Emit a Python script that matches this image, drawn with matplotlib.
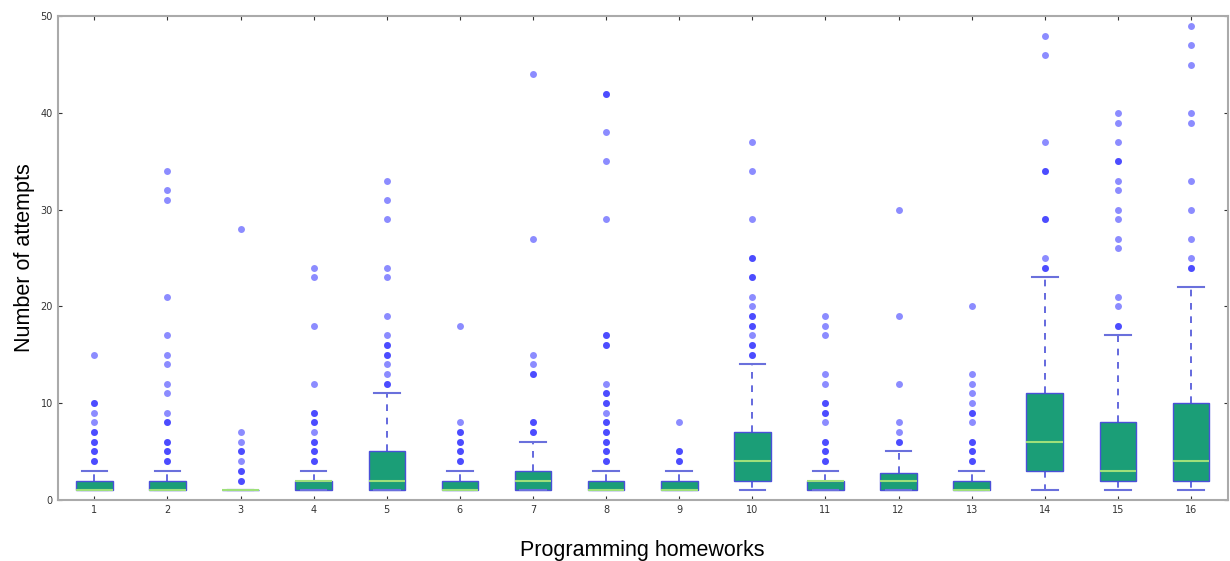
import matplotlib
matplotlib.use("Agg")
import matplotlib.pyplot as plt

homeworks = list(range(1, 17))

# box stats
q1 = [1, 1, 1, 1, 1, 1, 1, 1, 1, 2, 1, 1, 1, 3, 2, 2]
q3 = [2, 2, 1, 2, 5, 2, 3, 2, 2, 7, 2, 2.8, 2, 11, 8, 10]
med = [1, 1, 1, 2, 2, 1, 2, 1, 1, 4, 2, 2, 1, 6, 3, 4]
whislo = [1, 1, 1, 1, 1, 1, 1, 1, 1, 1, 1, 1, 1, 1, 1, 1]
whishi = [3, 3, 1, 3, 11, 3, 6, 3, 3, 14, 3, 5, 3, 23, 17, 22]

# outliers (repeated values show up darker)
fliers = [
    [4, 4, 5, 5, 6, 6, 7, 7, 8, 9, 10, 10, 15],
    [4, 4, 5, 5, 6, 6, 8, 8, 9, 11, 12, 14, 15, 17, 21, 31, 32, 34],
    [2, 2, 3, 3, 4, 5, 5, 6, 7, 28],
    [4, 4, 5, 5, 6, 6, 7, 8, 8, 9, 9, 12, 18, 23, 24],
    [12, 12, 13, 14, 15, 15, 16, 16, 17, 19, 23, 24, 29, 31, 33],
    [4, 4, 5, 5, 6, 6, 7, 7, 8, 18],
    [7, 7, 8, 8, 13, 13, 14, 15, 27, 44],
    [4, 4, 5, 5, 6, 6, 7, 7, 8, 8, 9, 10, 10, 11, 11, 12, 16, 16, 17, 17,
     29, 35, 38, 42, 42],
    [4, 4, 5, 5, 8],
    [15, 15, 16, 16, 17, 18, 18, 19, 19, 20, 21, 23, 23, 25, 25, 29, 34, 37],
    [4, 4, 5, 5, 6, 6, 8, 9, 9, 10, 10, 12, 13, 17, 18, 19],
    [6, 6, 7, 8, 12, 19, 30],
    [4, 4, 5, 5, 6, 6, 8, 9, 9, 10, 11, 12, 13, 20],
    [24, 24, 25, 29, 29, 34, 34, 37, 46, 48],
    [18, 18, 20, 21, 26, 27, 29, 30, 32, 33, 35, 35, 37, 39, 40],
    [24, 24, 25, 27, 30, 33, 39, 40, 45, 47, 49],
]

stats = []
for i in range(len(homeworks)):
    stats.append(dict(q1=q1[i], q3=q3[i], med=med[i], whislo=whislo[i],
                      whishi=whishi[i], fliers=fliers[i]))

fig = plt.figure(figsize=(12.3, 5.61), dpi=100)
ax = fig.add_axes([0.047, 0.109, 0.951, 0.862])

ax.bxp(stats, positions=homeworks, widths=0.5, capwidths=0.35,
       patch_artist=True,
       boxprops=dict(facecolor="#1b9e77", edgecolor="#4a50d8", linewidth=1.0),
       medianprops=dict(color="#9ee07a", linewidth=1.5),
       whiskerprops=dict(color="#4a50d8", linestyle=(0, (4, 4)), linewidth=1.2),
       capprops=dict(color="#6a70dc", linewidth=1.5),
       flierprops=dict(marker="o", markersize=5, markerfacecolor="#0000ff",
                       markeredgecolor="none", alpha=0.45))

ax.set_xlim(0.5, 16.5)
ax.set_ylim(0, 50)
ax.set_yticks([0, 10, 20, 30, 40, 50])
ax.set_xticks(homeworks)
ax.set_xticklabels([str(h) for h in homeworks])
ax.tick_params(labelsize=7, colors="#333333", length=3, direction="in",
               top=True, right=True)
for s in ax.spines.values():
    s.set_color("#aaaaaa")
    s.set_linewidth(1.5)

ax.set_ylabel("Number of attempts", fontsize=15.5, fontfamily="Liberation Sans")
ax.set_xlabel("Programming homeworks", fontsize=15.5, fontfamily="Liberation Sans",
              labelpad=18)

fig.savefig("out.png", dpi=100)
